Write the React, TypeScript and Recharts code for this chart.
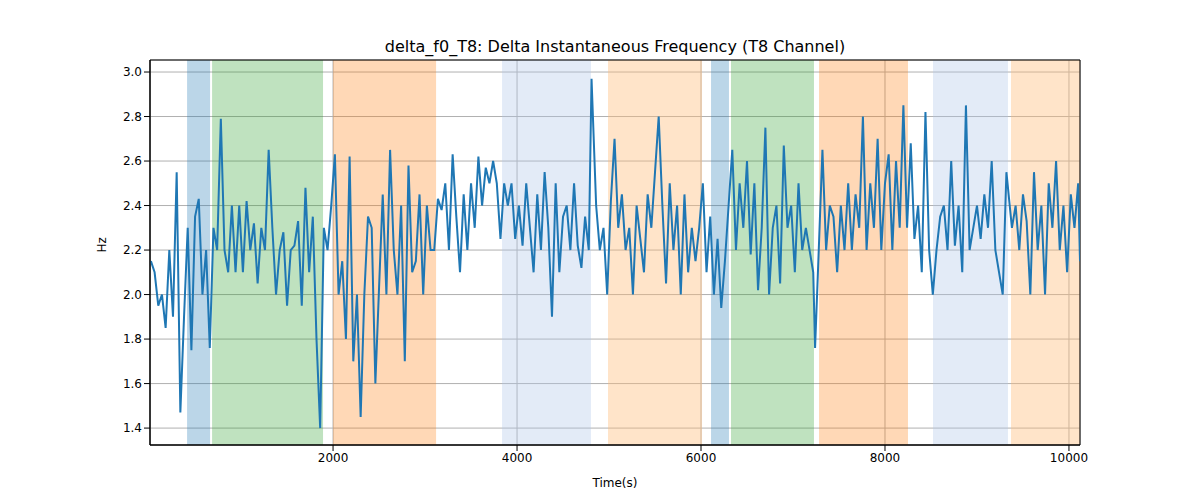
import React from "react";
import { LineChart, Line, XAxis, YAxis, CartesianGrid, ReferenceArea } from "recharts";

const times = [20,60,100,140,180,220,260,300,340,380,420,460,500,540,580,620,660,700,740,780,820,860,900,940,980,1020,1060,1100,1140,1180,1220,1260,1300,1340,1380,1420,1460,1500,1540,1580,1620,1660,1700,1740,1780,1820,1860,1900,1940,1980,2020,2060,2100,2140,2180,2220,2260,2300,2340,2380,2420,2460,2500,2540,2580,2620,2660,2700,2740,2780,2820,2860,2900,2940,2980,3020,3060,3100,3140,3180,3220,3260,3300,3340,3380,3420,3460,3500,3540,3580,3620,3660,3700,3740,3780,3820,3860,3900,3940,3980,4020,4060,4100,4140,4180,4220,4260,4300,4340,4380,4420,4460,4500,4540,4580,4620,4660,4700,4740,4780,4810,4860,4900,4940,4980,5020,5060,5100,5140,5180,5220,5260,5300,5340,5380,5420,5460,5500,5540,5580,5620,5660,5700,5740,5780,5820,5860,5900,5940,5980,6020,6060,6100,6140,6180,6220,6260,6300,6340,6380,6420,6460,6500,6540,6580,6620,6660,6700,6740,6780,6820,6860,6900,6940,6980,7020,7060,7100,7140,7180,7220,7240,7280,7320,7360,7400,7440,7480,7520,7560,7600,7640,7680,7720,7760,7800,7840,7880,7920,7960,8000,8040,8080,8120,8160,8200,8240,8280,8320,8360,8400,8440,8480,8520,8560,8600,8640,8680,8720,8760,8800,8840,8880,8920,8960,9000,9040,9080,9120,9160,9200,9240,9280,9320,9380,9420,9460,9500,9540,9580,9620,9660,9700,9740,9780,9820,9860,9900,9940,9980,10020,10060,10100,10120];
const values = [2.15,2.1,1.95,2.0,1.85,2.2,1.9,2.55,1.47,1.9,2.3,1.75,2.35,2.43,2.0,2.2,1.76,2.3,2.2,2.79,2.2,2.1,2.4,2.1,2.4,2.1,2.42,2.2,2.32,2.05,2.3,2.2,2.65,2.3,2.0,2.2,2.28,1.95,2.2,2.22,2.33,1.95,2.48,2.1,2.35,1.8,1.4,2.3,2.2,2.4,2.63,2.0,2.15,1.8,2.62,1.7,2.0,1.45,2.0,2.35,2.3,1.6,2.03,2.45,2.0,2.65,2.2,2.0,2.4,1.7,2.58,2.1,2.15,2.45,2.0,2.4,2.2,2.2,2.43,2.38,2.5,2.2,2.63,2.35,2.1,2.45,2.2,2.5,2.3,2.62,2.4,2.57,2.5,2.6,2.5,2.25,2.5,2.4,2.5,2.25,2.4,2.22,2.5,2.3,2.1,2.45,2.2,2.55,2.3,1.9,2.5,2.1,2.35,2.4,2.2,2.5,2.22,2.12,2.35,2.2,2.97,2.4,2.2,2.3,2.0,2.42,2.7,2.3,2.45,2.2,2.3,2.0,2.4,2.25,2.1,2.45,2.3,2.55,2.8,2.4,2.05,2.5,2.2,2.4,2.0,2.45,2.1,2.3,2.15,2.3,2.5,2.1,2.35,2.0,2.25,1.94,2.15,2.4,2.65,2.2,2.5,2.3,2.6,2.18,2.5,2.02,2.3,2.75,2.0,2.3,2.4,2.05,2.67,2.3,2.4,2.1,2.5,2.2,2.3,2.2,2.1,1.76,2.2,2.65,2.2,2.4,2.35,2.1,2.4,2.2,2.5,2.2,2.45,2.3,2.8,2.2,2.5,2.3,2.7,2.2,2.5,2.63,2.2,2.6,2.3,2.85,2.3,2.68,2.25,2.4,2.1,2.82,2.2,2.0,2.2,2.35,2.4,2.2,2.6,2.22,2.4,2.1,2.85,2.2,2.3,2.4,2.25,2.45,2.3,2.6,2.2,2.1,2.0,2.55,2.3,2.4,2.2,2.45,2.33,2.0,2.55,2.2,2.4,2.0,2.5,2.3,2.6,2.2,2.4,2.1,2.45,2.3,2.5,2.15];

const bandStarts = [413,685,2000,3837,4989,6109,6326,7283,8522,9370];
const bandEnds = [663,1891,3120,4804,6011,6304,7228,8250,9337,10120];
const bandColors = ["#1f77b4","#2ca02c","#ff7f0e","#aec7e8","#ffbb78","#1f77b4","#2ca02c","#ff7f0e","#aec7e8","#ffbb78"];
const bandOpacity = [0.3,0.3,0.3,0.35,0.4,0.3,0.3,0.3,0.35,0.4];

const xTicks = [2000,4000,6000,8000,10000];
const yTicks = [1.4,1.6,1.8,2.0,2.2,2.4,2.6,2.8,3.0];

const data = times.map((t, i) => ({ t, v: values[i] }));

export default function App() {
  return (
    <div style={{ position: "absolute", left: 0, top: 0, width: 1200, height: 500, background: "#fff", fontFamily: "DejaVu Sans" }}>
      <div style={{ position: "absolute", top: 37, width: 1230, textAlign: "center", fontSize: 16, color: "#000" }}>
        delta_f0_T8: Delta Instantaneous Frequency (T8 Channel)
      </div>
      <LineChart width={1200} height={500} data={data} margin={{ top: 60, right: 120, bottom: 25, left: 90 }}>
        {bandStarts.map((s, i) => (
          <ReferenceArea key={i} x1={s} x2={bandEnds[i]} fill={bandColors[i]} fillOpacity={bandOpacity[i]} stroke="none" ifOverflow="hidden" />
        ))}
        <CartesianGrid stroke="#b0b0b0" strokeWidth={1} horizontal vertical />
        <XAxis dataKey="t" type="number" domain={[10, 10120]} ticks={xTicks} allowDataOverflow height={30}
          tick={{ fill: "#000", fontSize: 12 }} tickLine={{ stroke: "#000" }} axisLine={{ stroke: "#000" }}
          label={{ value: "Time(s)", position: "insideBottom", offset: -12, fill: "#000", fontSize: 12 }} />
        <YAxis type="number" domain={[1.324, 3.054]} ticks={yTicks} allowDataOverflow width={60}
          tickFormatter={(v: number) => v.toFixed(1)}
          tick={{ fill: "#000", fontSize: 12 }} tickLine={{ stroke: "#000" }} axisLine={{ stroke: "#000" }}
          label={{ value: "Hz", angle: -90, position: "insideLeft", offset: 12, fill: "#000", fontSize: 12 }} />
        <Line type="linear" dataKey="v" stroke="#1f77b4" strokeWidth={2} dot={false} isAnimationActive={false} />
        <ReferenceArea x1={10} x2={10120} y1={1.324} y2={3.054} fill="none" stroke="#000" strokeWidth={1} />
      </LineChart>
    </div>
  );
}
